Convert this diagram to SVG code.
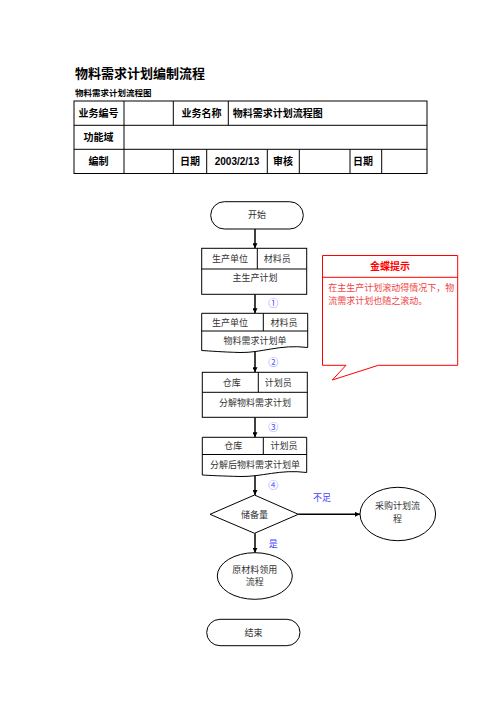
<svg xmlns="http://www.w3.org/2000/svg" width="496" height="702" viewBox="0 0 496 702">
<defs>
<marker id="arr" viewBox="0 0 10 10" refX="10" refY="5" markerWidth="5" markerHeight="5" orient="auto" markerUnits="userSpaceOnUse"><path d="M0,0 L10,5 L0,10 z" fill="#000"/></marker>
<style>
.hd{font-family:"Liberation Sans","Noto Sans CJK SC",sans-serif;font-weight:bold;fill:#000}
.tb{font-family:"Liberation Sans","Noto Sans CJK SC",sans-serif;font-weight:bold;font-size:10px;fill:#000}
.n{font-family:"Liberation Serif","Noto Sans CJK SC",serif;font-size:9px;fill:#333}
.shape{fill:#fff;stroke:#000;stroke-width:1}
.line{stroke:#000;stroke-width:1}
.conn{stroke:#000;stroke-width:1.5;fill:none;marker-end:url(#arr)}
.num{font-family:"Liberation Sans","Noto Sans CJK SC",sans-serif;font-size:10px;fill:#5555ff}
.lbl{font-family:"Liberation Serif","Noto Sans CJK SC",serif;font-size:9px;fill:#4444ff}
</style>
</defs>
<rect width="496" height="702" fill="#fff"/>
<g id="header">
<text class="hd" x="75" y="78" font-size="13">物料需求计划编制流程</text>
<text class="hd" x="75" y="96" font-size="8.5">物料需求计划流程图</text>
</g>
<g id="table">
<rect x="74" y="101" width="353" height="72.5" fill="none" stroke="#000" stroke-width="1"/>
<line class="line" x1="74" y1="125.3" x2="427" y2="125.3"/>
<line class="line" x1="74" y1="149.3" x2="427" y2="149.3"/>
<line class="line" x1="124" y1="101" x2="124" y2="173.5"/>
<line class="line" x1="173.3" y1="101" x2="173.3" y2="125.3"/>
<line class="line" x1="228.3" y1="101" x2="228.3" y2="125.3"/>
<line class="line" x1="173.3" y1="149.3" x2="173.3" y2="173.5"/>
<line class="line" x1="206.7" y1="149.3" x2="206.7" y2="173.5"/>
<line class="line" x1="267.3" y1="149.3" x2="267.3" y2="173.5"/>
<line class="line" x1="299.3" y1="149.3" x2="299.3" y2="173.5"/>
<line class="line" x1="350" y1="149.3" x2="350" y2="173.5"/>
<line class="line" x1="381.7" y1="149.3" x2="381.7" y2="173.5"/>
<text class="tb" x="98.5" y="116.5" text-anchor="middle">业务编号</text>
<text class="tb" x="201.5" y="116.5" text-anchor="middle">业务名称</text>
<text class="tb" x="232.7" y="116.5" font-size="9">物料需求计划流程图</text>
<text class="tb" x="98.5" y="140.5" text-anchor="middle">功能域</text>
<text class="tb" x="98.5" y="164.5" text-anchor="middle">编制</text>
<text class="tb" x="190" y="164.5" text-anchor="middle">日期</text>
<text class="tb" x="237" y="164.5" text-anchor="middle">2003/2/13</text>
<text class="tb" x="283" y="164.5" text-anchor="middle">审核</text>
<text class="tb" x="363" y="164.5" text-anchor="middle">日期</text>
</g>
<g id="connectors">
<line class="conn" x1="255" y1="229" x2="255" y2="248.3"/>
<line class="conn" x1="255" y1="294.3" x2="255" y2="313.3"/>
<line class="conn" x1="255" y1="351" x2="255" y2="372.3"/>
<line class="conn" x1="255" y1="417.3" x2="255" y2="437.3"/>
<line class="conn" x1="255" y1="474" x2="255" y2="495"/>
<line class="conn" x1="298.3" y1="514.3" x2="360" y2="514.3"/>
<line class="conn" x1="255" y1="533.3" x2="255" y2="552.7"/>
<text class="num" x="273.3" y="307" text-anchor="middle">①</text>
<text class="num" x="273.3" y="365.5" text-anchor="middle">②</text>
<text class="num" x="273.3" y="430.5" text-anchor="middle">③</text>
<text class="num" x="273.3" y="489" text-anchor="middle">④</text>
<text class="lbl" x="322" y="500.5" text-anchor="middle">不足</text>
<text class="lbl" x="273.3" y="546.5" text-anchor="middle">是</text>
</g>
<g id="start">
<rect class="shape" x="210.7" y="201.7" width="92.6" height="27.3" rx="13.6" ry="13.6"/>
<text class="n" x="257" y="218.3" text-anchor="middle">开始</text>
</g>
<g id="box1">
<rect class="shape" x="201.7" y="248.3" width="105" height="46"/>
<line class="line" x1="201.7" y1="269" x2="306.7" y2="269"/>
<line class="line" x1="257.3" y1="248.3" x2="257.3" y2="269"/>
<text class="n" x="230" y="261.5" text-anchor="middle">生产单位</text>
<text class="n" x="277.3" y="261.5" text-anchor="middle">材料员</text>
<text class="n" x="255" y="281" text-anchor="middle">主生产计划</text>
</g>
<g id="box2">
<path class="shape" d="M201.7,313.3 H307.7 V347.5 C280,344 262,353 240,352.5 C222,352 210,351 201.7,350.5 Z"/>
<line class="line" x1="201.7" y1="331" x2="307.7" y2="331"/>
<line class="line" x1="263.3" y1="313.3" x2="263.3" y2="331"/>
<text class="n" x="230" y="325.5" text-anchor="middle">生产单位</text>
<text class="n" x="284" y="325.5" text-anchor="middle">材料员</text>
<text class="n" x="255" y="344" text-anchor="middle">物料需求计划单</text>
</g>
<g id="box3">
<rect class="shape" x="202.3" y="372.3" width="105" height="45"/>
<line class="line" x1="202.3" y1="392.3" x2="307.3" y2="392.3"/>
<line class="line" x1="258.3" y1="372.3" x2="258.3" y2="392.3"/>
<text class="n" x="231.7" y="385.5" text-anchor="middle">仓库</text>
<text class="n" x="278.3" y="385.5" text-anchor="middle">计划员</text>
<text class="n" x="255" y="405.5" text-anchor="middle">分解物料需求计划</text>
</g>
<g id="box4">
<path class="shape" d="M202.3,437.3 H306.7 V472.5 C280,469 262,477 240,476.5 C222,476 210,475.5 202.3,475 Z"/>
<line class="line" x1="202.3" y1="454.5" x2="306.7" y2="454.5"/>
<line class="line" x1="263.3" y1="437.3" x2="263.3" y2="454.5"/>
<text class="n" x="233.3" y="449" text-anchor="middle">仓库</text>
<text class="n" x="284" y="449" text-anchor="middle">计划员</text>
<text class="n" x="255" y="468" text-anchor="middle">分解后物料需求计划单</text>
</g>
<g id="decision">
<polygon class="shape" points="210,514.3 254.5,495 298.3,514.3 254.5,533.3"/>
<text class="n" x="254.5" y="517.5" text-anchor="middle">储备量</text>
</g>
<g id="purchase">
<ellipse class="shape" cx="397.8" cy="514" rx="37.8" ry="26.7"/>
<text class="n" x="397.5" y="509" text-anchor="middle">采购计划流</text>
<text class="n" x="397.5" y="521.5" text-anchor="middle">程</text>
</g>
<g id="material">
<ellipse class="shape" cx="254.8" cy="576" rx="37.5" ry="23.3"/>
<text class="n" x="254.8" y="572.5" text-anchor="middle">原材料领用</text>
<text class="n" x="254.8" y="585" text-anchor="middle">流程</text>
</g>
<g id="end">
<rect class="shape" x="206.7" y="619.3" width="93.3" height="26.4" rx="13.2" ry="13.2"/>
<text class="n" x="253.5" y="635.5" text-anchor="middle">结束</text>
</g>
<g id="callout">
<path d="M322.5,255.5 H457.7 V365.3 H378.3 L332.3,380 L346,365.3 H322.5 Z" fill="#fff" stroke="#ff0000" stroke-width="1"/>
<line x1="322.5" y1="277.3" x2="457.7" y2="277.3" stroke="#ff0000" stroke-width="1"/>
<text x="390" y="270" text-anchor="middle" font-family="Liberation Sans,'Noto Sans CJK SC',sans-serif" font-weight="bold" font-size="10" fill="#ff0000">金蝶提示</text>
<text x="328.3" y="290.5" font-family="Liberation Serif,'Noto Sans CJK SC',serif" font-size="9" fill="#ee4444">在主生产计划滚动得情况下，物</text>
<text x="328.3" y="303.5" font-family="Liberation Serif,'Noto Sans CJK SC',serif" font-size="9" fill="#ee4444">流需求计划也随之滚动。</text>
</g>
</svg>
